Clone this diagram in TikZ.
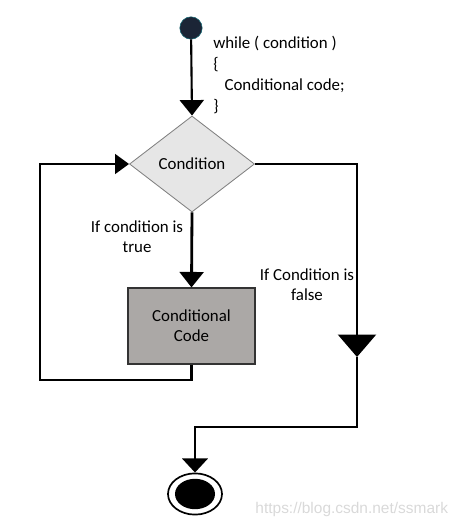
\documentclass[tikz,border=0pt]{standalone}
\usepackage{fontspec}
\setmainfont{Carlito}
\newfontfamily\wmfont{Liberation Sans}
\usetikzlibrary{arrows.meta,shapes.geometric}
\definecolor{dotblue}{HTML}{1B2536}
\definecolor{diafill}{HTML}{E6E6E6}
\definecolor{boxfill}{HTML}{ABA8A6}
\tikzset{
  flow/.style={line width=2pt},
  tip/.style={-{Triangle[width=17pt,length=11pt]}},
  bigtip/.style={-{Triangle[width=27pt,length=16pt]}},
  lbl/.style={align=center, inner sep=0pt, font=\fontsize{12}{14}\selectfont},
}

\begin{document}
\begin{tikzpicture}[x=0.025cm,y=-0.025cm]
		%%%%% START %%%%%
		\useasboundingbox (0,0) rectangle (461,527);
		
		\node[circle, fill=dotblue, draw=dotblue!70!cyan, minimum size=0.56cm, inner sep=0pt] (start) at (191,28) {};
		\node[anchor=north west, align=left, inner sep=0pt, font=\fontsize{12}{15}\selectfont] (code) at (213,36)
			{while ( condition )\\\{\\\hspace{8pt}Conditional code;\\\}};
		
		\node[diamond, fill=diafill, draw=black!50, line width=0.6pt, minimum width=3.125cm, minimum height=2.4cm, inner sep=0pt, font=\fontsize{12}{14}\selectfont] (cond) at (192,164) {Condition};
		\node[rectangle, fill=boxfill, draw=black!80, line width=0.8pt, minimum width=3.175cm, minimum height=1.9cm, lbl] (body) at (191.5,326) {Conditional\\Code};
		
		\node[lbl] (truelbl) at (137,237) {If condition is\\true};
		\node[lbl] (falselbl) at (307,285) {If Condition is\\false};
		
		\node[ellipse, draw, line width=1.2pt, minimum width=1.35cm, minimum height=1.03cm, inner sep=0pt] (stop) at (195,494) {};
		\fill (stop) ellipse [x radius=0.5cm, y radius=0.38cm];
		
		\coordinate (loopcorner) at (40,380);
		\coordinate (falsetip) at (357,357);
		\coordinate (joinright) at (357,427);
		
		\draw[line width=1.5pt, tip] (start) -- (cond.north);
		\draw[flow, tip] (cond.south) -- (body.north);
		\draw[flow, -{Triangle[width=14pt,length=10pt]}] (body.south) |- (loopcorner) |- (cond.west);
		\draw[flow, bigtip] (cond.east) -| (falsetip);
		\draw[flow, -{Triangle[width=18pt,length=10pt]}] (falsetip) -- (joinright) -| (stop.north);
		
		\node[anchor=east, text=black!15, font=\wmfont\fontsize{11}{13}\selectfont] (mark) at (453,509) {https://blog.csdn.net/ssmark};
		%%%%% END %%%%%
\end{tikzpicture}
\end{document}
